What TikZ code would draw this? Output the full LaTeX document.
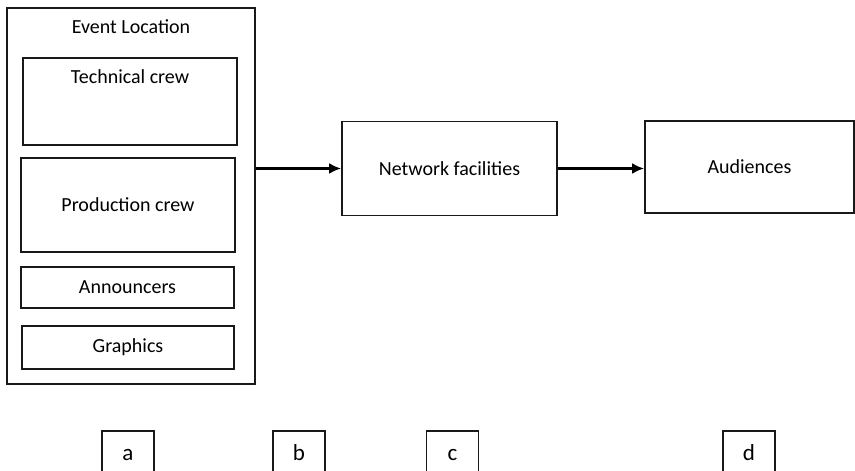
\documentclass[tikz,border=0pt]{standalone}
\usepackage{fontspec}
\setmainfont{Carlito}
\usetikzlibrary{arrows.meta,positioning}

\begin{document}
\begin{tikzpicture}[
  x=1pt, y=-1pt,
  every node/.style={font=\fontsize{20}{24}\selectfont},
  box/.style={draw=black!90, line width=1.8pt, inner sep=0pt},
  topbox/.style 2 args={box, anchor=north, minimum width=#1, text height=26pt, text depth=#2},
  letter/.style={box, anchor=north, minimum width=52pt, text height=30pt, text depth=40pt,
    font=\fontsize{23}{27}\selectfont},
  arr/.style={line width=2.4pt, -{Latex[length=12pt, width=11pt]}},
]
\clip (0,0) rectangle (855,471);
% event location with its crews
\node[topbox={248pt}{350pt}] (loc) at (131,7) {Event Location};
\node[topbox={214pt}{61pt}] (tech) at (130,57) {Technical crew};
\node[box, minimum width=214pt, minimum height=94pt] (prod) at (128,205) {Production crew};
\node[box, minimum width=213pt, minimum height=41pt] (ann) at (127.5,287.5) {Announcers};
\node[box, minimum width=212pt, minimum height=43pt] (gfx) at (128,347.5) {Graphics};
% chain to the audiences
\node[box, minimum width=215pt, minimum height=94pt] (net) at (449.5,168.5) {Network facilities};
\node[box, minimum width=209pt, minimum height=92pt] (aud) at (749.5,167) {Audiences};
\draw[arr] (net.west -| loc.east) -- (net.west);
\draw[arr] (net.east) -- (net.east -| aud.west);
% stage letters
\foreach \x/\t in {128/a, 299/b, 452.5/c, 749/d} {
  \node[letter] (lab\t) at (\x,430) {\t};
}
\end{tikzpicture}
\end{document}
